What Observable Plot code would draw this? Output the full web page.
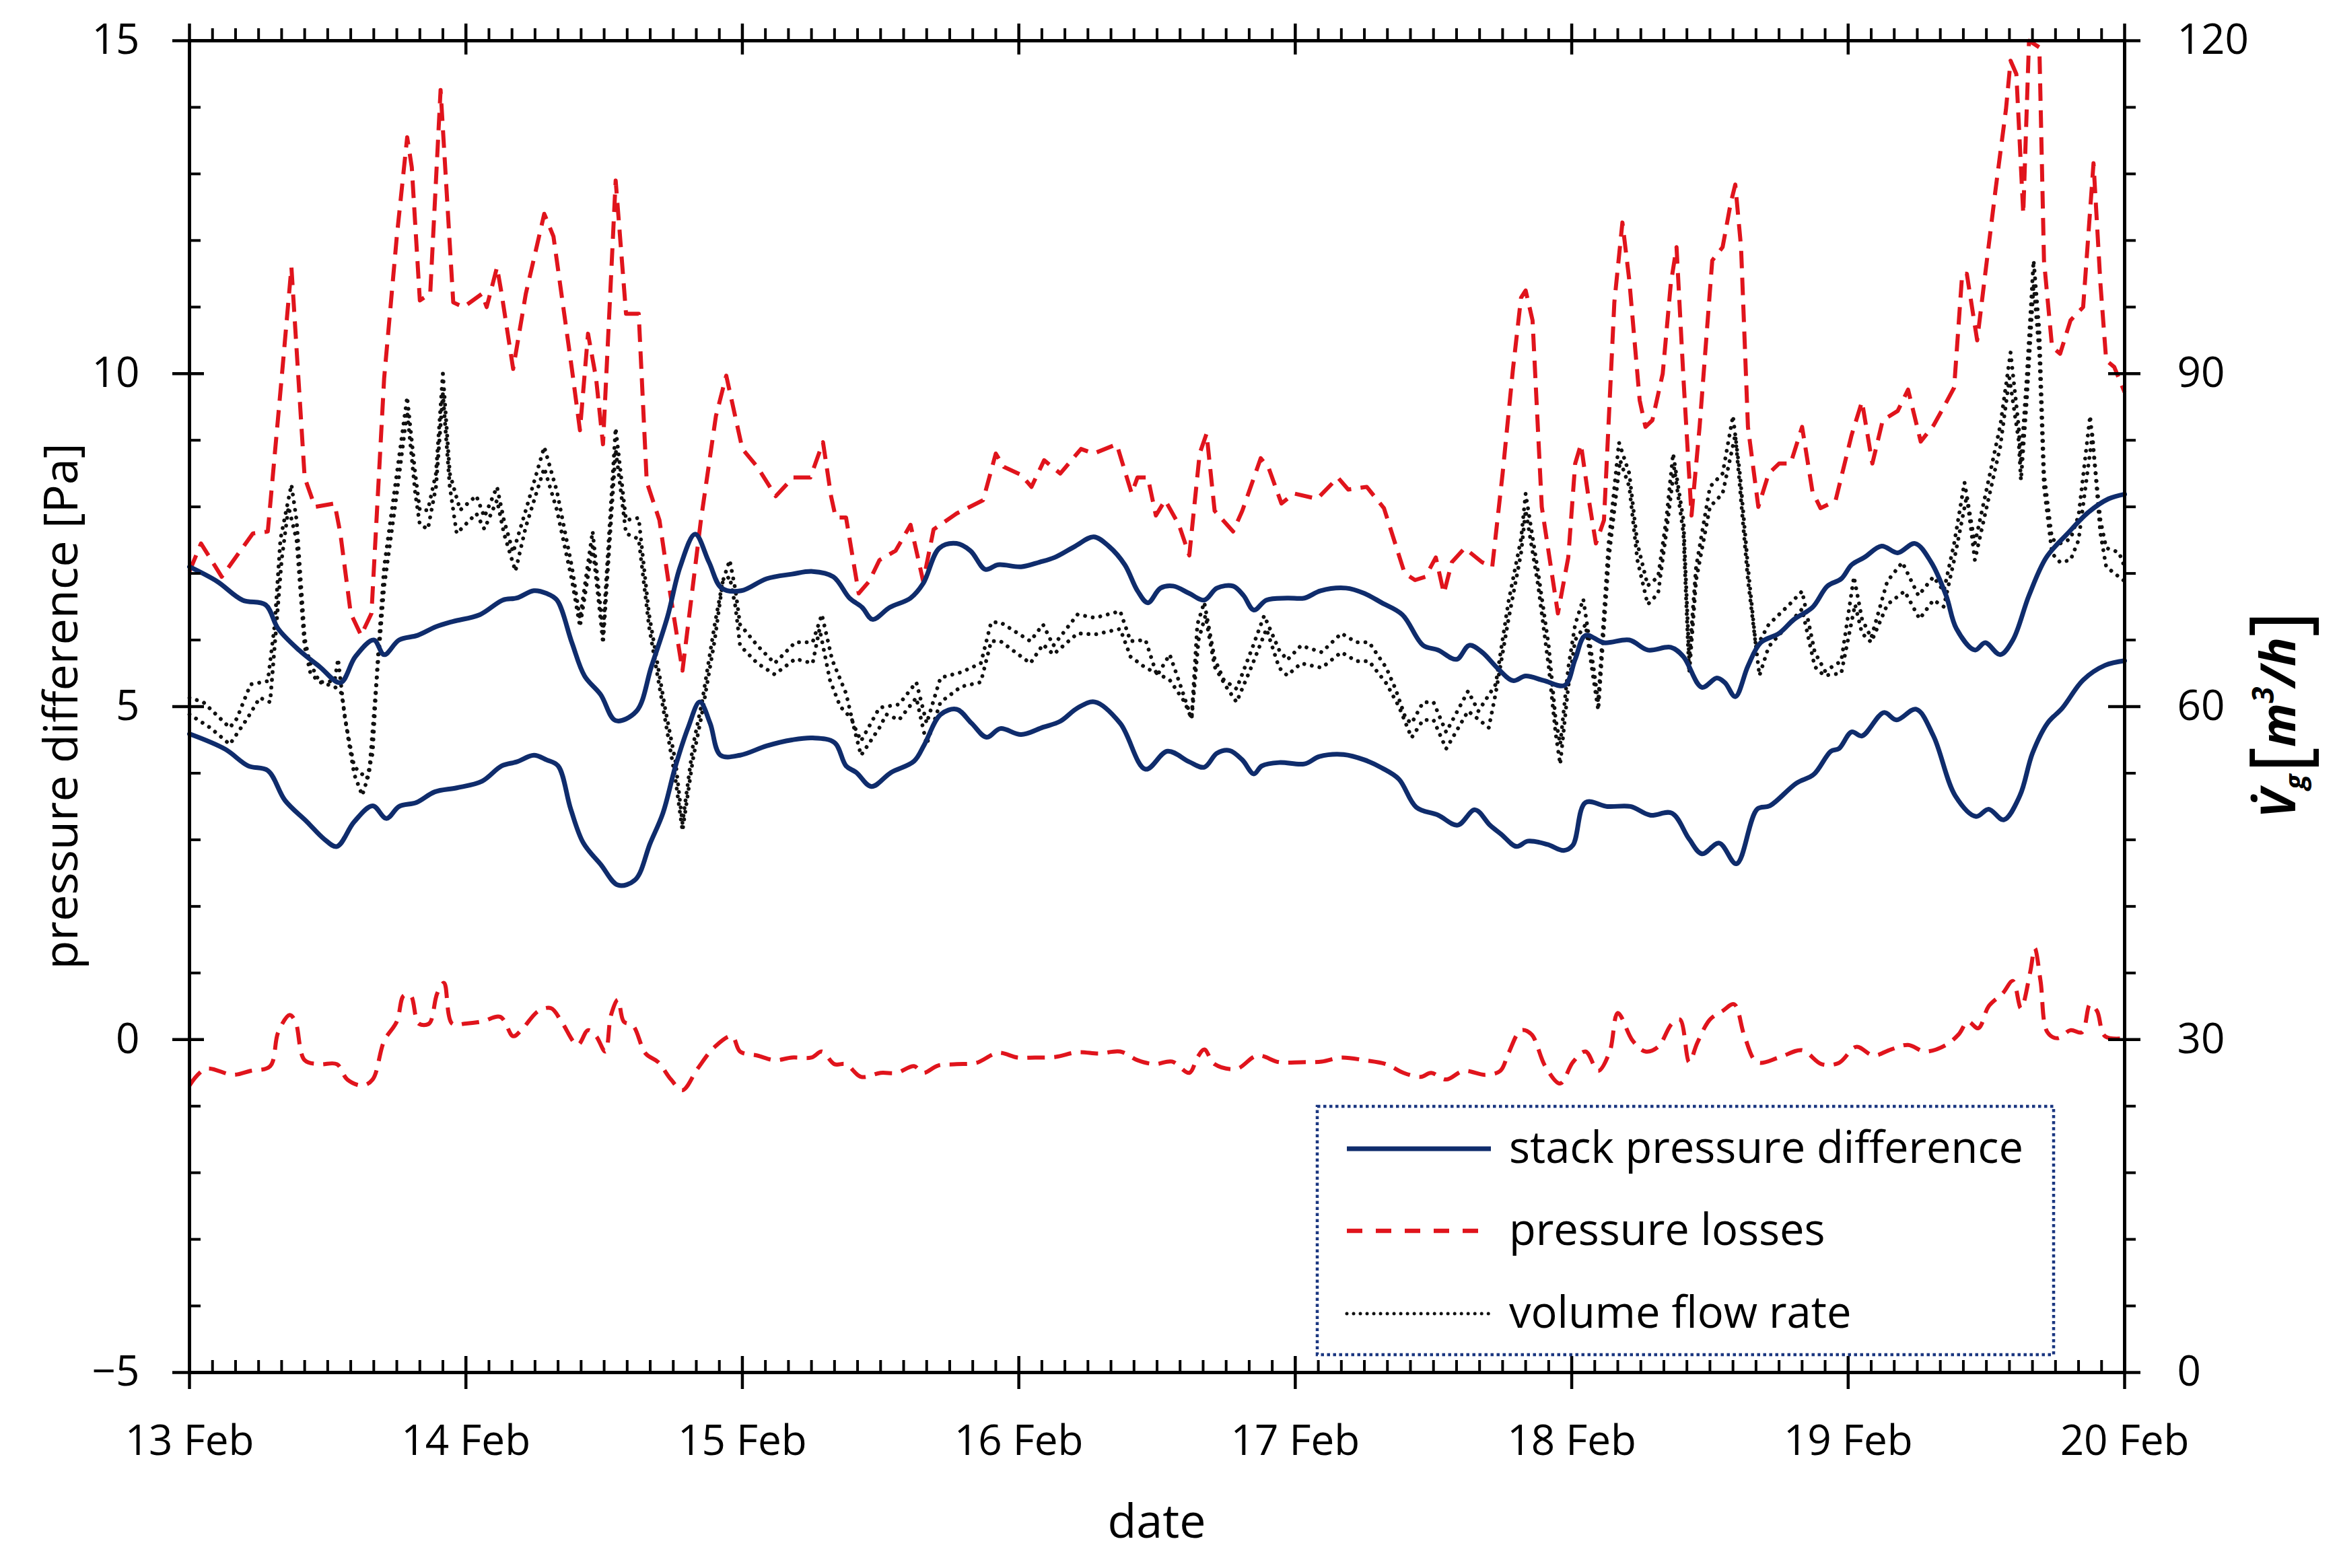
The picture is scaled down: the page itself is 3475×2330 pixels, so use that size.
<!DOCTYPE html>
<html><head><meta charset="utf-8">
<script src="https://cdn.jsdelivr.net/npm/d3@7"></script>
<script src="https://cdn.jsdelivr.net/npm/@observablehq/plot@0.6"></script>
<style>html,body{margin:0;padding:0;background:#fff;} svg{display:block}</style>
</head><body><div id="chart"></div>
<script>
// ---- data: [hours since 13 Feb 00:00, value] ----
const dayLabels = ["13 Feb","14 Feb","15 Feb","16 Feb","17 Feb","18 Feb","19 Feb","20 Feb"];
const leftTicks = [-5, 0, 5, 10, 15];            // pressure difference [Pa]
const rightTicks = [0, 30, 60, 90, 120];         // volume flow rate [m3/h]
const legendLabels = ["stack pressure difference", "pressure losses", "volume flow rate"];

// stack pressure difference [Pa] (two curves)
const stackHigh = [[0,7.1],[2.4,6.88],[4.6,6.6],[6.6,6.53],[7.7,6.17],[9.5,5.85],[11.3,5.6],[13.1,5.36],[14.4,5.75],[16,6.0],[16.9,5.78],[18.2,6.0],[19.8,6.07],[21.4,6.2],[22.9,6.28],[25.2,6.38],[27.2,6.6],[28.4,6.63],[29.9,6.74],[31,6.7],[31.9,6.6],[33.2,5.96],[34.3,5.46],[35.7,5.18],[37,4.79],[38.8,4.93],[40.1,5.6],[41.5,6.35],[42.6,7.1],[43.9,7.59],[45.1,7.17],[46.2,6.78],[47.9,6.74],[50.1,6.92],[52.3,6.99],[54.1,7.03],[55.9,6.95],[57.3,6.63],[58.4,6.49],[59.3,6.31],[60.8,6.49],[62.6,6.63],[63.7,6.85],[65.1,7.38],[66.6,7.45],[67.8,7.34],[69.1,7.06],[70.2,7.13],[72.2,7.1],[73.8,7.17],[75.1,7.24],[76.9,7.41],[78.5,7.55],[79.8,7.41],[81.2,7.13],[82.3,6.74],[83.2,6.56],[84.3,6.78],[85.4,6.81],[86.8,6.7],[88.1,6.6],[89.2,6.78],[90.6,6.81],[91.5,6.67],[92.4,6.45],[93.5,6.6],[95.3,6.63],[96.8,6.63],[98.2,6.74],[100.4,6.78],[102,6.7],[103.5,6.56],[105.3,6.38],[107.1,5.92],[108.4,5.85],[110,5.71],[111.1,5.92],[112.2,5.82],[113.6,5.57],[114.9,5.39],[116,5.46],[117.6,5.39],[119.4,5.32],[120.3,5.71],[121.2,6.07],[122.8,5.96],[125,6.0],[126.6,5.85],[128.6,5.89],[129.7,5.75],[131.3,5.29],[132.6,5.43],[133.3,5.36],[134.2,5.15],[135.3,5.61],[136.4,5.96],[138,6.1],[139.3,6.31],[140.9,6.49],[142.2,6.81],[143.4,6.92],[144.3,7.13],[145.4,7.24],[146.9,7.41],[148.3,7.31],[149.8,7.45],[151.2,7.17],[152.5,6.67],[153.4,6.17],[155,5.85],[155.9,5.96],[157.2,5.78],[158.3,6.0],[159.7,6.67],[161.2,7.24],[163,7.59],[164.8,7.91],[166.6,8.12],[168,8.19]];
const stackLow = [[0,4.59],[3.1,4.36],[5.1,4.11],[6.8,4.04],[8.3,3.59],[10.2,3.27],[11.7,3.01],[12.8,2.9],[14.3,3.27],[15.9,3.51],[17.1,3.32],[18.2,3.5],[19.7,3.56],[21.3,3.72],[23.2,3.78],[25.4,3.88],[27.1,4.11],[28.4,4.17],[29.9,4.27],[31,4.2],[32,4.11],[33.1,3.46],[34.2,2.95],[35.7,2.63],[37.2,2.32],[38.7,2.4],[40,2.95],[41.1,3.4],[42.2,4.11],[43.3,4.69],[44.3,5.07],[45.2,4.75],[46.1,4.27],[47.8,4.27],[50.1,4.41],[52.3,4.5],[54.1,4.53],[56,4.46],[57,4.11],[57.9,4.01],[59.2,3.8],[60.9,4.01],[62.9,4.18],[63.8,4.43],[65.2,4.88],[66.6,4.96],[67.9,4.75],[69.2,4.54],[70.4,4.67],[72.2,4.58],[74.1,4.69],[75.6,4.78],[77.1,4.98],[78.6,5.07],[80.8,4.75],[83,4.06],[84.9,4.33],[86.8,4.17],[88.1,4.09],[89.2,4.3],[90.3,4.34],[91.4,4.2],[92.4,3.99],[93.1,4.11],[94.6,4.16],[96.8,4.14],[98.1,4.25],[100.2,4.28],[102,4.2],[103.5,4.08],[105,3.91],[106.5,3.49],[108.4,3.37],[110.1,3.22],[111.6,3.45],[112.9,3.22],[113.9,3.08],[115.2,2.9],[116.2,2.98],[117.9,2.93],[119.3,2.84],[120.1,2.92],[121.2,3.56],[123.1,3.5],[125.1,3.5],[126.8,3.37],[128.7,3.4],[130.2,3.01],[131.3,2.79],[132.8,2.95],[134.3,2.64],[136.1,3.46],[137.2,3.51],[139.5,3.85],[141,3.98],[142.5,4.33],[143.2,4.37],[144.3,4.62],[145.2,4.56],[147.1,4.91],[148.2,4.8],[149.9,4.96],[151.4,4.56],[153.3,3.66],[155.1,3.35],[156.2,3.46],[157.5,3.3],[158.9,3.66],[160,4.3],[161.3,4.75],[162.6,4.98],[164.4,5.4],[166.3,5.62],[168,5.69]];

// pressure losses [Pa] (two curves)
const lossHigh = [[0,7.03],[1,7.45],[2.8,6.95],[5.5,7.6],[6.8,7.63],[8,9.93],[8.85,11.6],[10,8.44],[10.9,8.0],[12.6,8.05],[13.1,7.6],[14,6.4],[14.9,6.07],[15.8,6.4],[16.9,9.93],[18,12.06],[18.9,13.55],[19.3,13.1],[20,11.1],[20.9,11.2],[21.8,14.26],[22.9,11.07],[23.8,11.0],[25.4,11.2],[25.8,11.0],[26.7,11.6],[27.1,11.2],[28.1,10.07],[29.2,11.2],[30.8,12.4],[31.6,12.06],[33.2,10.07],[33.9,9.15],[34.6,10.6],[35.3,9.93],[35.9,8.94],[37,12.9],[37.9,10.9],[39,10.9],[39.7,8.37],[40.8,7.8],[41.7,6.74],[42.8,5.54],[44.4,7.8],[45.7,9.36],[46.6,9.97],[48,8.87],[49.3,8.6],[50.9,8.16],[52.4,8.44],[53.9,8.44],[55,8.97],[55.7,8.16],[56.1,7.84],[57,7.84],[58.1,6.7],[59,6.88],[59.9,7.2],[61.3,7.34],[62.6,7.73],[63.7,6.88],[64.6,7.66],[66.6,7.9],[68.9,8.1],[70,8.8],[70.7,8.6],[72.2,8.48],[73.1,8.3],[74.2,8.7],[75.6,8.5],[77.4,8.87],[78.5,8.8],[80.5,8.94],[81.8,8.2],[82.3,8.44],[83.2,8.44],[83.9,7.87],[84.7,8.1],[85.9,7.73],[86.8,7.27],[87.7,8.8],[88.3,9.1],[89,7.94],[90.6,7.63],[91.4,7.94],[93,8.73],[93.7,8.58],[94.8,8.05],[95.9,8.2],[97.9,8.12],[99.7,8.44],[100.6,8.26],[102.2,8.3],[103.7,7.98],[105.5,7.0],[106.4,6.9],[107.3,6.95],[108.2,7.24],[108.9,6.7],[109.6,7.17],[110.7,7.38],[112.2,7.17],[113.1,7.1],[114,8.5],[114.9,10.07],[115.6,11.14],[116,11.25],[116.6,10.8],[117.4,8.0],[118.8,6.4],[119.7,7.24],[120.3,8.65],[120.8,8.94],[121.5,8.09],[122.1,7.45],[122.8,7.8],[123.7,11.07],[124.4,12.27],[125,11.4],[125.9,9.6],[126.4,9.2],[127,9.3],[127.9,10.0],[128.6,11.35],[129.1,11.9],[129.7,9.93],[130.4,7.87],[131.1,9.2],[132.2,11.7],[133.1,11.9],[133.8,12.56],[134.2,12.84],[134.7,11.9],[135.3,9.2],[136.2,8.0],[137.1,8.5],[138,8.65],[139,8.65],[140,9.2],[140.9,8.23],[141.6,7.98],[142.9,8.09],[144.3,9.08],[145.2,9.58],[146.1,8.65],[147,9.3],[148.3,9.44],[149.2,9.76],[150.3,8.98],[151.4,9.22],[152.3,9.5],[153.2,9.79],[153.9,11.5],[154.3,11.5],[155.2,10.5],[155.9,11.5],[156.8,12.77],[157.7,13.97],[158.1,14.7],[158.6,14.5],[159.2,12.4],[159.7,15.0],[160.6,14.9],[161,11.7],[161.7,10.4],[162.4,10.3],[163.3,10.8],[164.4,11.0],[165.3,13.16],[165.9,11.35],[166.4,10.2],[167.1,10.1],[168,9.72]];
const lossLow = [[0,-0.69],[1.4,-0.44],[3.8,-0.53],[5.3,-0.47],[7,-0.4],[7.7,0.11],[8.7,0.37],[9.2,0.27],[10,-0.31],[11.3,-0.37],[12.8,-0.37],[13.7,-0.6],[15,-0.69],[15.9,-0.6],[16.9,-0.02],[18,0.27],[18.6,0.66],[19.2,0.66],[19.9,0.24],[20.8,0.24],[21.5,0.69],[22.1,0.85],[22.8,0.24],[24,0.24],[25.4,0.27],[27,0.34],[28.1,0.05],[28.8,0.14],[30.3,0.43],[31.4,0.47],[32.3,0.27],[33.7,-0.08],[34.6,0.14],[35.3,0.05],[36.1,-0.18],[36.6,0.37],[37.2,0.6],[37.7,0.27],[38.5,0.21],[39.6,-0.21],[40.7,-0.34],[41.8,-0.6],[42.8,-0.76],[44.1,-0.44],[45.6,-0.11],[47.1,0.05],[47.8,-0.18],[49.3,-0.24],[50.8,-0.31],[52.3,-0.27],[54,-0.27],[54.9,-0.18],[56,-0.37],[57,-0.37],[58.3,-0.56],[60,-0.5],[61.4,-0.5],[62.9,-0.4],[63.7,-0.5],[65,-0.39],[66.6,-0.37],[68.3,-0.35],[70.2,-0.2],[71.9,-0.27],[73.4,-0.27],[75.2,-0.26],[77.1,-0.19],[79,-0.21],[80.8,-0.18],[82.3,-0.31],[83.8,-0.37],[85.3,-0.33],[86.8,-0.5],[87.5,-0.27],[88.1,-0.15],[89,-0.37],[90.9,-0.44],[92.7,-0.24],[94.6,-0.34],[96.5,-0.34],[98.3,-0.33],[100,-0.27],[102,-0.31],[103.9,-0.37],[105.4,-0.5],[106.9,-0.56],[107.8,-0.5],[109.1,-0.6],[110.6,-0.47],[112.5,-0.53],[113.8,-0.47],[114.5,-0.21],[115.6,0.14],[116.5,0.08],[117.7,-0.4],[119,-0.66],[120.1,-0.34],[121.2,-0.18],[122.3,-0.47],[123.3,-0.18],[124,0.4],[125.3,-0.02],[126.4,-0.18],[127.5,-0.11],[128.7,0.24],[129.4,0.3],[130.2,-0.34],[130.9,-0.05],[132,0.3],[133.1,0.43],[134.1,0.53],[135,0.05],[136.1,-0.34],[138,-0.27],[140,-0.16],[141.7,-0.37],[143.2,-0.35],[144.7,-0.11],[146.2,-0.24],[147.7,-0.15],[149.2,-0.08],[150.7,-0.18],[152.5,-0.08],[153.6,0.08],[154.4,0.27],[155.3,0.17],[156.2,0.5],[157.4,0.69],[158.3,0.88],[159,0.47],[159.8,1.01],[160.2,1.37],[160.7,0.88],[161.3,0.11],[162.2,0.02],[163.3,0.14],[164.3,0.11],[165,0.53],[165.6,0.43],[166.3,0.05],[168,0.02]];

// volume flow rate [m3/h] (two curves, right axis)
const flowHigh = [[0,60.8],[1.2,60.4],[3.5,58.1],[4.1,58.9],[5.3,62.0],[6.8,62.3],[7.4,67.4],[7.9,75.1],[8.85,80.0],[9.3,76.8],[10,66.2],[10.4,64.1],[11.3,62.2],[12.6,62.3],[12.9,64.3],[13.5,58.9],[14.3,54.6],[15.4,53.5],[15.9,55.8],[16.3,63.5],[16.9,72.6],[18,81.0],[18.9,87.9],[19.6,81.0],[20,77.7],[20.7,77.7],[21.4,81.0],[22,90.0],[22.6,81.0],[23.5,77.7],[24.9,79.0],[25.6,77.1],[26.7,79.8],[27.3,76.8],[28.1,73.9],[29.2,77.7],[30.8,83.4],[31.9,79.4],[33.2,72.6],[33.9,67.9],[35,75.8],[35.7,68.8],[35.9,66.6],[37,85.1],[37.9,76.8],[39,77.0],[39.9,68.3],[41.3,59.8],[42.2,55.0],[42.8,49.5],[43.7,56.4],[44.5,60.4],[45.6,67.4],[46.3,71.3],[46.9,73.2],[47.4,70.5],[47.8,67.4],[49.3,65.5],[50.8,63.9],[52.6,65.8],[54.1,65.8],[54.9,68.3],[55.8,64.2],[57,61.2],[57.6,58.5],[58.3,56.9],[59.9,59.9],[61.6,60.2],[63.1,62.2],[64,58.5],[65.2,62.6],[67,63.1],[68.7,63.9],[69.6,67.6],[70.4,67.6],[73,65.9],[74.1,67.4],[75,65.5],[77.1,68.3],[78.6,68.0],[80.8,68.6],[81.7,65.9],[83,66.0],[84,62.8],[85.1,64.7],[86,62.0],[87,58.9],[87.5,67.4],[88.1,69.4],[89,64.3],[89.8,62.4],[90.9,61.6],[92.2,65.1],[93.3,68.2],[94.6,65.1],[95.3,64.2],[96.5,65.5],[98.3,64.9],[100,66.6],[101.3,65.8],[102.4,65.8],[103.9,63.5],[104.7,61.6],[105.6,58.9],[106.1,58.5],[107.1,60.4],[108,60.4],[109.1,57.7],[111,61.4],[111.9,59.6],[113.4,62.0],[114.5,69.4],[115.6,75.1],[116,79.2],[117.1,72.0],[118,65.5],[118.6,58.9],[119,56.6],[119.7,63.5],[120.3,67.4],[121,69.7],[121.9,63.5],[122.3,60.4],[123.2,74.7],[124.1,83.8],[125,81.0],[125.7,74.7],[126.6,70.9],[127.5,71.7],[128.2,76.8],[128.8,82.8],[129.7,76.8],[130.2,64.3],[130.8,72.6],[132,79.8],[133.1,81.0],[134,86.2],[134.6,81.0],[135.3,72.6],[136,65.3],[137.1,67.4],[138.9,69.2],[140,70.4],[141.1,64.9],[142,63.2],[143.4,64.1],[144.5,71.7],[145.2,67.9],[146,66.2],[147.4,71.3],[148.7,73.0],[150.1,70.0],[151.4,71.7],[152.3,70.4],[153.2,74.7],[154.1,80.2],[155,74.7],[155.9,79.0],[157.2,85.3],[158.1,91.9],[158.8,85.3],[159,81.9],[159.5,89.6],[160.1,100.2],[160.6,93.8],[161,81.0],[161.7,75.1],[162.4,74.7],[163.3,75.1],[164,77.2],[165,86.2],[165.9,76.8],[166.4,74.3],[167.5,73.9],[168,72.6]];
const flowLow = [[0,59.3],[1.8,58.1],[3.5,56.6],[5,58.9],[6.1,60.8],[7,60.4],[7.4,65.5],[8,73.2],[8.6,78.0],[9.3,75.0],[10,65.4],[10.5,63.0],[11.3,62.2],[12.6,61.8],[13.2,61.2],[13.8,57.0],[14.3,53.9],[15,52.0],[15.6,54.0],[16.2,61.8],[16.9,70.8],[18,79.2],[18.9,86.6],[19.6,79.2],[20,76.4],[20.7,76.0],[21.4,79.8],[22,88.2],[22.6,79.8],[23.2,75.6],[24.9,77.4],[25.6,76.0],[26.7,78.6],[27.3,75.6],[28.3,72.2],[29.2,76.2],[30.8,81.5],[31.9,77.7],[33.2,71.4],[33.9,67.2],[35,74.4],[35.7,67.8],[35.9,65.7],[37,83.2],[37.9,75.6],[39,75.1],[39.9,67.2],[41.3,58.8],[42.2,53.4],[42.8,48.8],[43.7,55.2],[44.5,59.4],[45.6,66.0],[46.3,71.3],[46.9,71.7],[47.4,69.0],[47.8,65.5],[49.3,63.9],[50.8,62.9],[52.6,64.3],[54.1,63.9],[54.7,67.0],[55.6,62.4],[56.5,60.0],[57.5,58.9],[58.3,55.6],[59.9,58.1],[60.5,59.3],[61.6,58.8],[63.1,60.8],[64,56.6],[65.2,60.4],[67,61.8],[68.7,62.2],[69.6,65.9],[70.4,65.9],[73,63.9],[74.1,65.6],[75,64.7],[77.1,66.6],[78.6,66.5],[80.8,67.0],[81.7,64.5],[83,63.5],[84,63.0],[85.1,62.4],[86.4,60.4],[87,58.9],[87.6,66.0],[88.2,68.2],[89,63.6],[90,61.8],[90.9,60.4],[92.2,63.6],[93.5,67.0],[94.6,63.5],[95.3,62.8],[96.5,63.9],[98.3,63.5],[100,64.9],[101.3,64.1],[102.4,64.1],[103.9,62.1],[105,60.0],[106.1,57.2],[107.1,58.8],[108,58.8],[109.1,56.2],[111,59.6],[112.8,58.1],[113.4,61.2],[114.5,67.8],[115.6,73.8],[116,77.7],[117.1,70.8],[118,63.6],[118.6,57.6],[119,54.8],[119.7,61.8],[120.3,66.0],[121.2,67.4],[121.9,62.4],[122.3,59.7],[123.2,73.2],[124.2,82.2],[125,79.8],[125.7,73.2],[126.6,69.2],[127.5,70.2],[128.2,75.6],[128.9,81.5],[129.7,75.6],[130.2,63.0],[130.8,71.4],[132,78.0],[133.1,79.2],[134.2,84.5],[134.6,79.8],[135.3,71.4],[136.3,62.8],[137.1,65.4],[138.9,67.5],[140,68.8],[141.1,63.6],[141.9,62.8],[143.4,63.0],[144.6,69.2],[145.2,66.6],[146,65.8],[147.4,69.2],[148.9,70.4],[150.2,67.9],[151.4,69.6],[152.3,69.0],[153.2,73.2],[154.3,79.0],[155,73.2],[155.9,77.4],[157.2,83.4],[158,89.6],[158.8,84.0],[159,80.4],[159.5,87.6],[160.1,98.1],[160.6,91.8],[161,79.8],[161.7,73.8],[162.4,73.0],[163.3,73.2],[164,75.0],[165.2,84.5],[165.9,75.6],[166.4,72.6],[167.5,71.7],[168,71.3]];

// ---- layout ----
const W = 3475, H = 2330;
const mL = 281, mR = 319, mT = 60, mB = 291;
const plotW = W - mL - mR, plotH = H - mT - mB;
const NAVY = "#0f2c6c", RED = "#e0141c", BLACK = "#111111";
const FONT = "Open Sans";

const t0 = Date.UTC(2021, 1, 13);
const toDate = h => new Date(t0 + h * 3600000);
const days = dayLabels.map((_, i) => toDate(24 * i));
const minorX = d3.range(0, 169, 2).filter(h => h % 24 !== 0).map(toDate);
const minorY = d3.range(-5, 16).filter(v => v % 5 !== 0);
const flowToPa = v => v / 6 - 5;   // right axis 0..120 m3/h  <->  left axis -5..15 Pa

const X = d => toDate(d[0]);
const dotted = {stroke: BLACK, strokeWidth: 5.8, strokeDasharray: "0.01,11.5", strokeLinecap: "round"};
const dashed = {stroke: RED, strokeWidth: 6, strokeDasharray: "26,14", strokeLinecap: "butt"};
const solid = {stroke: NAVY, strokeWidth: 7, curve: "catmull-rom"};
const plot = Plot.plot({
  width: W, height: H,
  marginLeft: mL, marginRight: mR, marginTop: mT, marginBottom: mB,
  style: {fontFamily: FONT, fontSize: "62px", color: "black", background: "white"},
  x: {type: "utc", domain: [toDate(0), toDate(168)]},
  y: {domain: [-5, 15]},
  marks: [
    // data
    Plot.line(flowLow, {x: X, y: d => flowToPa(d[1]), ...dotted}),
    Plot.line(flowHigh, {x: X, y: d => flowToPa(d[1]), ...dotted}),
    Plot.line(lossLow, {x: X, y: d => d[1], ...dashed, curve: "catmull-rom"}),
    Plot.line(lossHigh, {x: X, y: d => d[1], ...dashed}),
    Plot.line(stackLow, {x: X, y: d => d[1], ...solid}),
    Plot.line(stackHigh, {x: X, y: d => d[1], ...solid}),
    // ticks
    Plot.tickY(leftTicks, {y: d => d, stroke: "black", strokeWidth: 4.5, insetLeft: -25, insetRight: plotW - 22}),
    Plot.tickY(minorY, {y: d => d, stroke: "black", strokeWidth: 4, insetLeft: 0, insetRight: plotW - 17}),
    Plot.tickY(rightTicks, {y: d => flowToPa(d), stroke: "black", strokeWidth: 4.5, insetLeft: plotW - 24, insetRight: -24}),
    Plot.tickY(minorY, {y: d => d, stroke: "black", strokeWidth: 4, insetLeft: plotW, insetRight: -17}),
    Plot.tickX(days, {x: d => d, stroke: "black", strokeWidth: 4.5, insetTop: plotH - 24, insetBottom: -25}),
    Plot.tickX(days, {x: d => d, stroke: "black", strokeWidth: 4.5, insetTop: -25, insetBottom: plotH - 21}),
    Plot.tickX(minorX, {x: d => d, stroke: "black", strokeWidth: 4, insetTop: plotH - 18, insetBottom: 0}),
    Plot.tickX(minorX, {x: d => d, stroke: "black", strokeWidth: 4, insetTop: -18, insetBottom: plotH}),
    Plot.frame({stroke: "black", strokeWidth: 5}),
    // tick labels
    Plot.axisX({anchor: "bottom", ticks: days, tickSize: 0, tickPadding: 78, label: null, fontSize: 62,
      tickFormat: d => dayLabels[Math.round((d - t0) / 86400000)]}),
    Plot.axisY({anchor: "left", ticks: leftTicks, tickSize: 0, tickPadding: 74, label: null, fontSize: 62,
      tickFormat: d => d < 0 ? "\u2212" + Math.abs(d) : String(d)}),
    Plot.axisY({anchor: "right", ticks: rightTicks.map(flowToPa), tickSize: 0, tickPadding: 78, label: null, fontSize: 62,
      tickFormat: d => String(Math.round((d + 5) * 6))})
  ]
});
document.getElementById("chart").appendChild(plot);

// ---- titles and legend ----
const svg = d3.select(plot);
svg.append("text").attr("font-family", FONT).attr("font-size", 70).attr("fill", "black")
  .attr("text-anchor", "middle").attr("transform", `translate(115,${mT + plotH / 2}) rotate(-90)`)
  .text("pressure difference [Pa]");
svg.append("text").attr("font-family", FONT).attr("font-size", 70).attr("fill", "black")
  .attr("text-anchor", "middle").attr("x", mL + plotW / 2).attr("y", 2285).text("date");

// right axis label: V̇g [m³/h]
const rl = svg.append("text").attr("font-family", FONT).attr("font-size", 72).attr("font-weight", 700)
  .attr("font-style", "italic").attr("fill", "black").attr("text-anchor", "middle")
  .attr("transform", `translate(3410,1062) rotate(-90)`);
rl.append("tspan").text("V\u0307");
rl.append("tspan").attr("font-size", 42).attr("dy", 14).text("g");
rl.append("tspan").attr("font-size", 118).attr("font-style", "normal").attr("font-weight", 400).attr("dy", 2).attr("dx", 2).text("[");
rl.append("tspan").attr("dy", -16).text("m");
rl.append("tspan").attr("font-size", 44).attr("dy", -32).text("3");
rl.append("tspan").attr("dy", 32).text("/h");
rl.append("tspan").attr("font-size", 118).attr("font-style", "normal").attr("font-weight", 400).attr("dy", 16).text("]");

// legend
const lg = svg.append("g").attr("text-anchor", "start");
lg.append("rect").attr("x", 1957).attr("y", 1644).attr("width", 1094).attr("height", 369)
  .attr("fill", "white").attr("stroke", "#1a3680").attr("stroke-width", 4.5).attr("stroke-dasharray", "4.5,4.5");
const legendStyles = [
  {stroke: NAVY, width: 7, dash: null, cap: "butt", y: 1707},
  {stroke: RED, width: 6.5, dash: "23,20", cap: "butt", y: 1829},
  {stroke: BLACK, width: 5, dash: "0.01,10", cap: "round", y: 1952}
];
legendStyles.forEach((s, i) => {
  lg.append("line").attr("x1", 2001).attr("x2", 2215).attr("y1", s.y).attr("y2", s.y)
    .attr("stroke", s.stroke).attr("stroke-width", s.width).attr("stroke-dasharray", s.dash)
    .attr("stroke-linecap", s.cap);
  lg.append("text").attr("x", 2242).attr("y", s.y + 21).attr("text-anchor", "start")
    .attr("font-family", FONT).attr("font-size", 65).attr("fill", "black").text(legendLabels[i]);
});
</script></body></html>
